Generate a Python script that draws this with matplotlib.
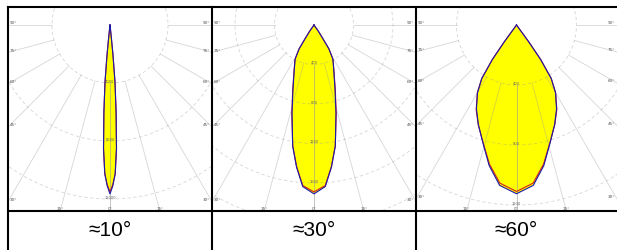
import numpy as np
import matplotlib.pyplot as plt
from matplotlib.lines import Line2D
from matplotlib.patches import Circle

W, H = 617, 251

# Lichtstaerkeverteilung: Winkel ab Nadir (Grad), Werte in cd
ang_10 = [0, 1, 2, 3, 4, 5, 5.7, 6.1, 6.5]
c0_10 = [11650, 11100, 10250, 8500, 6000, 3950, 2050, 700, 0]
c90_10 = [11500, 11000, 10300, 8600, 6100, 4000, 2100, 750, 0]

ang_30 = [0, 4, 7, 10, 14, 18, 24, 29, 32, 33, 35, 36]
c0_30 = [1710, 1640, 1450, 1245, 920, 690, 490, 395, 285, 170, 80, 0]
c90_30 = [1690, 1630, 1445, 1240, 930, 700, 495, 395, 285, 170, 80, 0]

ang_60 = [0, 6, 11, 16, 21, 25.5, 30, 33, 35, 36, 37]
c0_60 = [1125, 1075, 955, 815, 710, 620, 520, 425, 280, 140, 0]
c90_60 = [1110, 1060, 945, 812, 712, 625, 522, 425, 280, 140, 0]

titel = ["≈10°", "≈30°", "≈60°"]
schritt = [4000, 400, 400]          # Abstand der Kreise in cd
winkel_grid = [15, 30, 45, 60, 75, 90]

daten = [(ang_10, c0_10, c90_10), (ang_30, c0_30, c90_30), (ang_60, c0_60, c90_60)]

# Layout in Pixel
spalten = [8, 212, 416, 617]
oben, trenn, mitte_y = 8, 212, 26
px_schritt = [58, 39.5, 60]


def kurve(ang, val):
    ang = np.asarray(ang, float)
    val = np.asarray(val, float)
    th = np.radians(np.r_[-ang[::-1], ang[1:]])
    r = np.r_[val[::-1], val[1:]]
    return r * np.sin(th), -r * np.cos(th)


fig = plt.figure(figsize=(W / 100, H / 100), dpi=100)

for i in range(3):
    x0, x1 = spalten[i], spalten[i + 1]
    ax = fig.add_axes([x0 / W, 1 - trenn / H, (x1 - x0) / W, (trenn - oben) / H])
    u = schritt[i] / px_schritt[i]   # cd pro Pixel
    a = (x1 - x0) / 2 * u
    b = (trenn - mitte_y) * u
    t = (mitte_y - oben) * u
    ax.set_xlim(-a, a)
    ax.set_ylim(-b, t)
    ax.set_axis_off()

    ang, c0, c90 = daten[i]
    xb, yb = kurve(ang, c0)
    xr, yr = kurve(ang, c90)
    ax.fill(xb, yb, color="#ffff00", zorder=1, lw=0)
    ax.fill(xr, yr, color="#ffff00", zorder=1, lw=0)

    # Polargitter
    for k in range(1, 9):
        ax.add_patch(Circle((0, 0), k * schritt[i], fill=False, ec="#999999", alpha=0.4,
                            lw=0.6, ls=(0, (4, 3)), zorder=2))
    for d in [0] + winkel_grid:
        for s in (-1, 1):
            th = np.radians(d)
            rr = np.array([schritt[i], 20 * schritt[i]])
            ax.plot(s * rr * np.sin(th), -rr * np.cos(th), color="#999999", alpha=0.4,
                    lw=0.6, zorder=2)

    ax.plot(xr, yr, color="#d42020", lw=0.8, zorder=3)
    ax.plot(xb, yb, color="#1a1aa8", lw=0.8, zorder=4)

    # Werte an den Kreisen
    for k in range(1, 9):
        if k * schritt[i] < b * 0.97:
            ax.annotate(str(k * schritt[i]), (0, -k * schritt[i]), xytext=(0, 1.5),
                        textcoords="offset points", fontsize=2.6, color="#666666",
                        ha="center", va="center", zorder=5)

    # Winkelbeschriftung am Rand
    for d in winkel_grid:
        sn, cs = np.sin(np.radians(d)), np.cos(np.radians(d))
        tx = a / sn
        ty = b / cs if cs > 1e-9 else np.inf
        for s in (-1, 1):
            if tx <= ty:
                ax.annotate(f"{d}°", (s * a, -cs * tx), xytext=(-s * 1.5, 0.5),
                            textcoords="offset points", fontsize=3, color="#555555",
                            ha="left" if s < 0 else "right", va="bottom")
            else:
                ax.annotate(f"{d}°", (s * sn * ty, -b), xytext=(0, 0.8),
                            textcoords="offset points", fontsize=3, color="#555555",
                            ha="center", va="bottom")
    ax.annotate("0°", (0, -b), xytext=(0, 0.5), textcoords="offset points",
                fontsize=3, color="#555555", ha="center", va="bottom")

    fig.text((x0 + x1) / 2 / W, 1 - 231 / H, titel[i], ha="center", va="center",
             fontsize=15, family=["Liberation Sans", "DejaVu Sans"])

# Tabellenrahmen
linien = [
    ((8, 617), (oben, oben)),
    ((8, 617), (trenn, trenn)),
    ((8, 8), (oben, H)),
    ((212, 212), (oben, H)),
    ((416, 416), (oben, H)),
]
for xs, ys in linien:
    fig.add_artist(Line2D([xs[0] / W, xs[1] / W], [1 - ys[0] / H, 1 - ys[1] / H],
                          transform=fig.transFigure, color="black", lw=1.5))

fig.savefig("out.png", dpi=100)
